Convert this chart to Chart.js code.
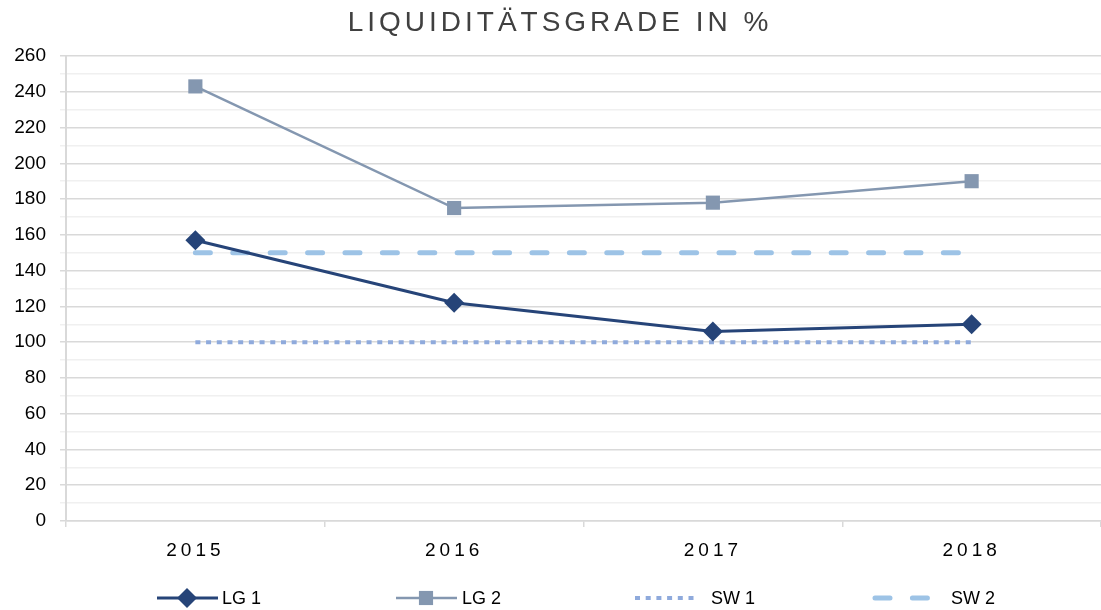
<!DOCTYPE html>
<html>
<head>
<meta charset="utf-8">
<script src="https://cdn.jsdelivr.net/npm/chart.js@4/dist/chart.umd.min.js"></script>
<style>
  html, body { margin: 0; padding: 0; background: #fff; }
  #wrap { width: 1101px; height: 610px; }
</style>
</head>
<body>
<div id="wrap"><canvas id="myChart" width="1101" height="610"></canvas></div>
<script>
const years = ['2015', '2016', '2017', '2018'];
const lg1 = [157, 122, 106, 110];
const lg2 = [243, 175, 178, 190];
const sw1 = [100, 100, 100, 100];
const sw2 = [150, 150, 150, 150];
const chartTitle = 'LIQUIDITÄTSGRADE IN %';
const FONT = '"Liberation Sans", Arial, sans-serif';

// title and legend are painted by hand (letter spacing, line samples with markers)
const decoPlugin = {
    id: 'deco',
    afterDatasetsDraw(chart) {
        // x tick labels (z: 1) get drawn after this, with spacing
        chart.ctx.letterSpacing = '4px';
    },
    afterDraw(chart) {
        const ctx = chart.ctx;
        ctx.save();
        ctx.letterSpacing = '4px';
        ctx.fillStyle = '#404040';
        ctx.font = '28px ' + FONT;
        ctx.textAlign = 'center';
        ctx.textBaseline = 'middle';
        ctx.fillText(chartTitle, 560, 23);
        ctx.restore();

        ctx.save();
        ctx.letterSpacing = '0px';
        const y = 598;
        chart.data.datasets.forEach((ds, i) => {
            const x0 = [157, 396, 635, 875][i];
            ctx.save();
            ctx.strokeStyle = ds.borderColor;
            ctx.lineWidth = ds.borderWidth;
            ctx.lineCap = ds.borderCapStyle || 'butt';
            ctx.setLineDash(ds.borderDash || []);
            ctx.beginPath();
            ctx.moveTo(x0, y);
            ctx.lineTo(x0 + 61, y);
            ctx.stroke();
            ctx.restore();
            if (ds.pointRadius > 0) {
                ctx.fillStyle = ds.pointBackgroundColor;
                Chart.helpers.drawPoint(ctx, { pointStyle: ds.pointStyle, radius: ds.pointRadius, borderWidth: 0 }, x0 + 30, y);
            }
            ctx.fillStyle = '#000';
            ctx.font = '18px ' + FONT;
            ctx.textAlign = 'left';
            ctx.textBaseline = 'middle';
            ctx.fillText(ds.label, x0 + [65, 66, 76, 76][i], y + 1);
        });
        ctx.restore();
        ctx.letterSpacing = '0px';
    }
};

const ctx = document.getElementById('myChart').getContext('2d');
const myChart = new Chart(ctx, {
    type: 'line',
    data: {
        labels: years,
        datasets: [
            {
                label: 'LG 1',
                data: lg1,
                borderColor: '#264478',
                borderWidth: 3,
                pointStyle: 'rectRot',
                pointRadius: 10,
                pointBackgroundColor: '#264478',
                pointBorderWidth: 0
            },
            {
                label: 'LG 2',
                data: lg2,
                borderColor: '#8497B0',
                borderWidth: 2.5,
                pointStyle: 'rect',
                pointRadius: 10,
                pointBackgroundColor: '#8497B0',
                pointBorderWidth: 0
            },
            {
                label: 'SW 1',
                data: sw1,
                borderColor: '#8FAADC',
                borderWidth: 4,
                borderDash: [5, 5.7],
                pointRadius: 0
            },
            {
                label: 'SW 2',
                data: sw2,
                borderColor: '#9DC3E6',
                borderWidth: 5,
                borderDash: [15, 22.4],
                borderCapStyle: 'round',
                pointRadius: 0
            }
        ]
    },
    options: {
        responsive: false,
        animation: false,
        layout: { autoPadding: false, padding: { top: 56, left: 0, right: -1, bottom: 0 } },
        scales: {
            x: {
                offset: true,
                grid: {
                    offset: true,
                    drawOnChartArea: false,
                    drawTicks: true,
                    tickLength: 6,
                    color: '#d9d9d9',
                    lineWidth: 1.5
                },
                border: { color: '#d9d9d9', width: 1.5 },
                ticks: {
                    z: 1,
                    color: '#000',
                    padding: 12,
                    maxRotation: 0,
                    font: { family: FONT, size: 19 }
                },
                afterFit(scale) { scale.height = 89; }
            },
            y: {
                min: 0,
                max: 260,
                ticks: {
                    stepSize: 10,
                    autoSkip: false,
                    color: '#000',
                    padding: 14,
                    font: { family: FONT, size: 19 },
                    callback: v => (v % 20 === 0 ? v : '')
                },
                grid: {
                    color: c => (c.tick && c.tick.value % 20 === 0 ? '#d9d9d9' : '#f0f0f0'),
                    lineWidth: 1.5,
                    tickLength: 6
                },
                border: { color: '#d9d9d9', width: 2 },
                afterFit(scale) { scale.width = 66; }
            }
        },
        plugins: {
            legend: { display: false },
            title: { display: false },
            tooltip: { enabled: false }
        }
    },
    plugins: [decoPlugin]
});
</script>
</body>
</html>
